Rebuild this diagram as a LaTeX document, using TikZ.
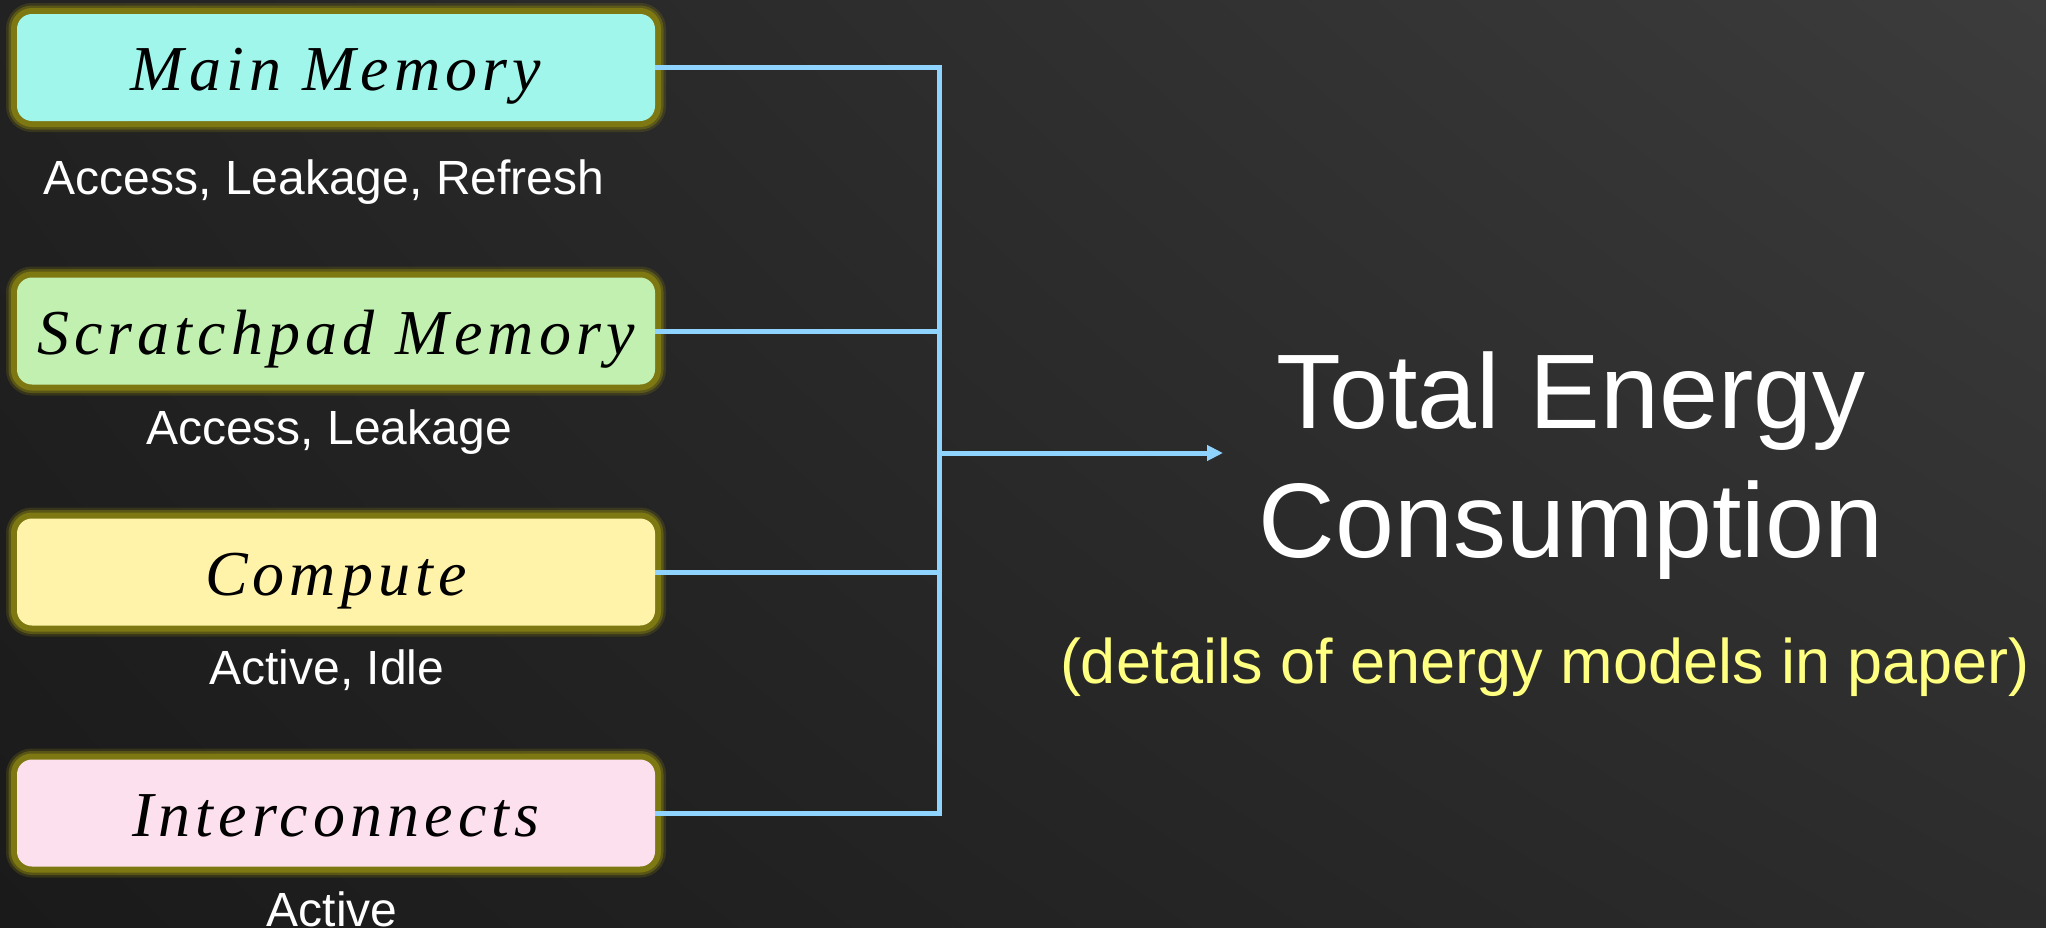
\documentclass[tikz,border=0pt]{standalone}
\usepackage{fontspec}
\setmainfont{Liberation Sans}
\newfontfamily\boxfont[LetterSpace=8]{Liberation Serif}
\usetikzlibrary{arrows.meta,shadings}
\definecolor{glowc}{HTML}{7E7812}
\definecolor{linec}{HTML}{8ED4FF}
\definecolor{mmc}{HTML}{A0F6EA}
\definecolor{spc}{HTML}{C2F0B0}
\definecolor{cpc}{HTML}{FFF3AA}
\definecolor{icc}{HTML}{FDE0EE}
\definecolor{notec}{HTML}{FFFF80}
\definecolor{bgul}{HTML}{222222}
\definecolor{bgur}{HTML}{3C3C3C}
\definecolor{bgll}{HTML}{1A1A1A}
\definecolor{bglr}{HTML}{2C2C2C}
\tikzset{
  box/.style={rounded corners=15pt, minimum width=638pt, minimum height=107pt,
    inner sep=0pt, text height=46pt, text depth=0pt, text=black,
    font=\boxfont\itshape\fontsize{64}{70}\selectfont,
    preaction={draw=glowc, line width=22pt, draw opacity=0.25},
    preaction={draw=glowc, line width=17pt, draw opacity=0.5},
    preaction={draw=glowc, line width=12pt}},
  sublabel/.style={anchor=base, text=white, inner sep=0pt, font=\fontsize{48}{56}\selectfont},
  conn/.style={draw=linec, line width=5pt},
  bigtext/.style={anchor=base, text=white, inner sep=0pt, font=\fontsize{106}{128}\selectfont},
  note/.style={anchor=base, text=notec, inner sep=0pt, font=\fontsize{63}{72}\selectfont}
}
\begin{document}
\begin{tikzpicture}[x=1pt, y=-1pt]
\useasboundingbox (0pt,0pt) rectangle (2046pt,-927pt);
\shade[upper left=bgul, upper right=bgur, lower left=bgll, lower right=bglr] (0pt,0pt) rectangle (2046pt,-927pt);

\node[box, fill=mmc] (mm) at (336,67.5) {Main Memory};
\node[box, fill=spc] (sp) at (336,331) {Scratchpad Memory};
\node[box, fill=cpc] (cp) at (336,572) {Compute};
\node[box, fill=icc] (ic) at (336,813) {Interconnects};

\node[sublabel] (mml) at (324,194) {Access, Leakage, Refresh};
\node[sublabel] (spl) at (329,444) {Access, Leakage};
\node[sublabel] (cpl) at (327,684) {Active, Idle};
\node[sublabel] (icl) at (332,926) {Active};

\coordinate (bus) at (939,453);
\coordinate (tip) at (1223,453);

\draw[conn] (mm.east) -| (bus |- ic.east) -- (ic.east);
\draw[conn] (sp.east) -- (sp.east -| bus);
\draw[conn] (cp.east) -- (cp.east -| bus);
\draw[conn, -{Triangle[length=16pt, width=15pt]}] (bus) -- (tip);

\node[bigtext] (tot1) at (1571,428) {Total Energy};
\node[bigtext] (tot2) at (1571,557) {Consumption};
\node[note] (nt) at (1545,683) {(details of energy models in paper)};
\end{tikzpicture}
\end{document}
